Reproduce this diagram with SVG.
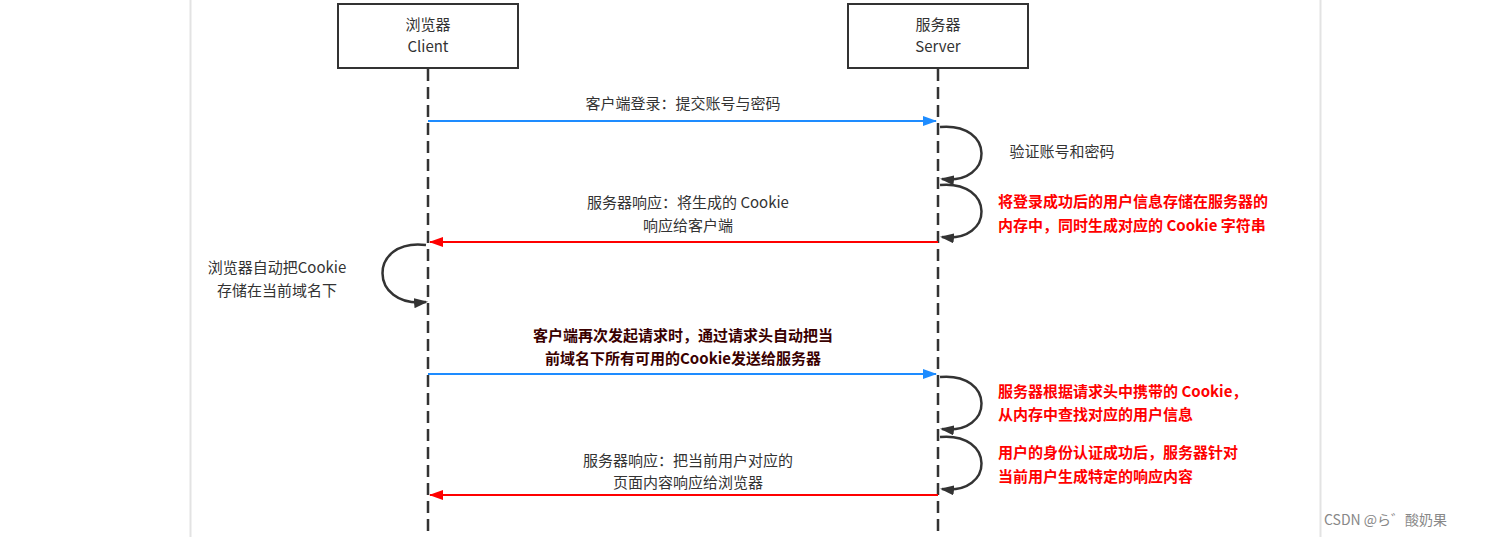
<svg xmlns="http://www.w3.org/2000/svg" width="1486" height="537" viewBox="0 0 1486 537">
<style>
.box{fill:#fff;stroke:#333;stroke-width:2}
.life{stroke:#333;stroke-width:2.5;stroke-dasharray:12,6;fill:none}
.t{font-family:"Noto Sans CJK SC","Noto Sans",sans-serif;font-size:15px;fill:#333;text-anchor:middle}
.r{font-family:"Noto Sans CJK SC","Noto Sans",sans-serif;font-size:15px;fill:#ff0000;font-weight:bold}
.b{font-family:"Noto Sans CJK SC","Noto Sans",sans-serif;font-size:15px;fill:#3a0000;font-weight:bold;text-anchor:middle}
.blue{stroke:#1e8cff;stroke-width:2;fill:none;marker-end:url(#ab)}
.red{stroke:#ff0000;stroke-width:2;fill:none;marker-end:url(#ar)}
.loop{stroke:#333;stroke-width:2.5;fill:none;marker-end:url(#ak)}
</style>
<defs>
<marker id="ab" markerWidth="14" markerHeight="10" refX="13" refY="5" orient="auto" markerUnits="userSpaceOnUse"><path d="M0,0L14,5L0,10z" fill="#1e8cff"/></marker>
<marker id="ar" markerWidth="14" markerHeight="10" refX="13" refY="5" orient="auto" markerUnits="userSpaceOnUse"><path d="M0,0L14,5L0,10z" fill="#ff0000"/></marker>
<marker id="ak" markerWidth="14" markerHeight="10" refX="12" refY="5" orient="auto" markerUnits="userSpaceOnUse"><path d="M0,0L14,5L0,10z" fill="#333"/></marker>
</defs>
<rect width="1486" height="537" fill="#fff"/>
<line x1="190.5" y1="0" x2="190.5" y2="537" stroke="#e3e3e3" stroke-width="2"/>
<line x1="1320.5" y1="0" x2="1320.5" y2="537" stroke="#e3e3e3" stroke-width="2"/>
<g id="lifelines">
<line class="life" x1="428" y1="69" x2="428" y2="537"/>
<line class="life" x1="938" y1="69" x2="938" y2="537"/>
</g>
<g id="client"><rect class="box" x="338" y="4" width="180" height="64"/><text class="t" x="428" y="30">浏览器</text><text class="t" x="428" y="52">Client</text></g>
<g id="server"><rect class="box" x="848" y="4" width="180" height="64"/><text class="t" x="938" y="30">服务器</text><text class="t" x="938" y="52">Server</text></g>
<g id="connectors">
<line class="blue" x1="428" y1="121" x2="936" y2="121"/>
<path class="loop" d="M940,127 C995,122 995,185 942,179"/>
<path class="loop" d="M940,185 C995,180 995,243 942,237"/>
<line class="red" x1="938" y1="242" x2="430" y2="242"/>
<path class="loop" d="M426,245 C368,238 368,308 426,302"/>
<line class="blue" x1="428" y1="374" x2="936" y2="374"/>
<path class="loop" d="M940,377 C995,372 995,435 942,429"/>
<path class="loop" d="M940,437 C995,432 995,495 942,489"/>
<line class="red" x1="938" y1="495" x2="430" y2="495"/>
</g>
<g id="labels">
<text class="t" x="683" y="109">客户端登录：提交账号与密码</text>
<text class="t" x="1062" y="157" style="text-anchor:middle">验证账号和密码</text>
<text class="t" x="688" y="208">服务器响应：将生成的 Cookie</text>
<text class="t" x="688" y="231">响应给客户端</text>
<text class="r" x="998" y="207">将登录成功后的用户信息存储在服务器的</text>
<text class="r" x="998" y="231">内存中，同时生成对应的 Cookie 字符串</text>
<text class="t" x="277" y="273">浏览器自动把Cookie</text>
<text class="t" x="277" y="296">存储在当前域名下</text>
<text class="b" x="683" y="341">客户端再次发起请求时，通过请求头自动把当</text>
<text class="b" x="683" y="364">前域名下所有可用的Cookie发送给服务器</text>
<text class="r" x="998" y="397">服务器根据请求头中携带的 Cookie，</text>
<text class="r" x="998" y="420">从内存中查找对应的用户信息</text>
<text class="r" x="998" y="458">用户的身份认证成功后，服务器针对</text>
<text class="r" x="998" y="482">当前用户生成特定的响应内容</text>
<text class="t" x="688" y="466">服务器响应：把当前用户对应的</text>
<text class="t" x="688" y="488">页面内容响应给浏览器</text>
<text x="1324" y="525" style="font-family:'Noto Sans CJK SC',sans-serif;font-size:14px;fill:#888">CSDN @ら゛酸奶果</text>
</g>
</svg>
